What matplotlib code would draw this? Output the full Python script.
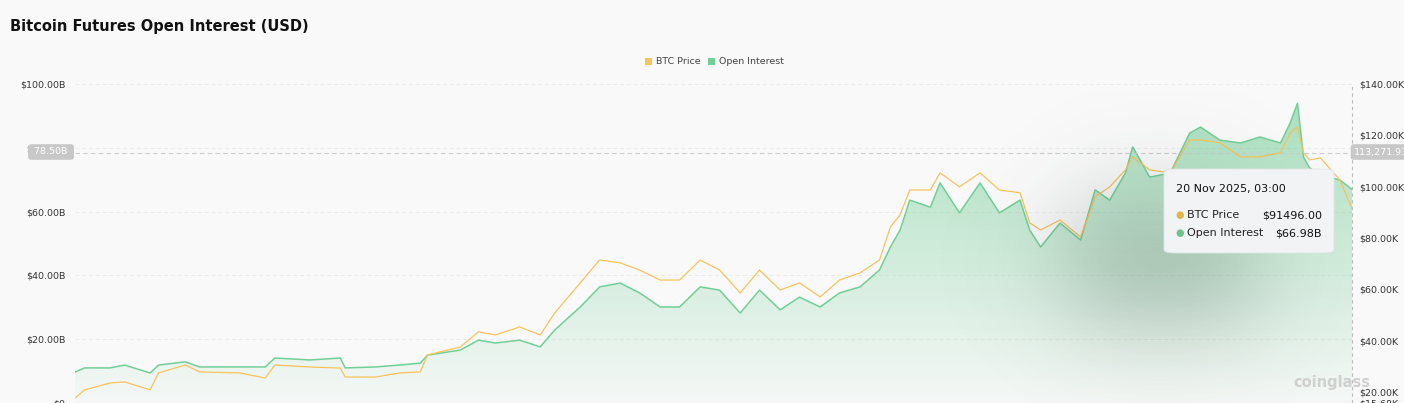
import matplotlib.pyplot as plt
import matplotlib.dates as mdates
from matplotlib.patches import FancyBboxPatch, Polygon
import numpy as np
import pandas as pd

# day offsets from 2023-01-01
days = [0, 8, 29, 41, 62, 69, 91, 103, 136, 157, 165, 194, 219, 223, 248, 268, 285, 291, 318, 333,
        347, 367, 384, 396, 417, 433, 450, 466, 483, 499, 516, 532, 549, 565, 582, 598, 615, 631, 648, 664,
        673, 681, 689, 706, 714, 730, 747, 763, 780, 788, 797, 813, 830, 842, 854, 867, 873, 887, 904, 920,
        929, 945, 962, 978, 995, 1003, 1009, 1014, 1019, 1028, 1044, 1054]
# open interest, billions USD
oi = [9.7, 11.0, 11.0, 11.9, 9.4, 11.9, 12.9, 11.3, 11.3, 11.3, 14.1, 13.5, 14.1, 11.0, 11.3, 11.9, 12.5, 15.0, 16.6, 19.7,
      18.8, 19.7, 17.6, 22.9, 30.1, 36.4, 37.6, 34.5, 30.1, 30.1, 36.4, 35.4, 28.2, 35.4, 29.2, 33.2, 30.1, 34.5, 36.4, 41.7,
      48.9, 54.2, 63.6, 61.4, 69.0, 59.6, 69.0, 59.6, 63.6, 54.2, 48.9, 56.4, 51.1, 66.8, 63.6, 72.1, 80.3, 70.8, 72.1, 84.6,
      86.5, 82.4, 81.5, 83.4, 81.5, 87.8, 94.0, 77.1, 73.7, 71.5, 69.9, 66.98]
# btc price, thousands USD
price = [17.6, 20.8, 23.5, 23.9, 20.8, 27.4, 30.5, 27.8, 27.4, 25.4, 30.5, 29.7, 29.3, 25.8, 25.8, 27.4, 27.8, 34.4, 37.5, 43.4,
         42.2, 45.3, 42.2, 50.8, 62.5, 71.4, 70.3, 67.5, 63.6, 63.6, 71.4, 67.5, 58.6, 67.5, 59.7, 62.5, 57.0, 63.6, 66.4, 71.4,
         84.3, 89.0, 98.7, 98.7, 105.4, 99.9, 105.4, 98.7, 97.6, 85.9, 83.1, 87.0, 80.4, 96.0, 99.9, 106.5, 111.6, 106.5, 105.4, 118.2,
         118.2, 117.1, 111.6, 111.6, 113.2, 121.0, 123.3, 113.2, 110.4, 111.2, 102.6, 91.496]
left_ticks = [0, 20, 40, 60, 80, 100]
right_ticks = [15.68, 20, 40, 60, 80, 100, 120, 140]

dates = pd.Timestamp('2023-01-01') + pd.to_timedelta(days, unit='D')
x = mdates.date2num(dates)

GREEN = '#72cf97'
GOLD = '#f7c35c'
BG = '#f9f9f9'
W, H = 1404, 403

fig = plt.figure(figsize=(14.04, 4.03), dpi=100, facecolor=BG)
ax = fig.add_axes([75 / W, 0, (1352 - 75) / W, (403 - 84) / H])
ax.set_facecolor(BG)
ax.set_xlim(x[0], x[-1])
ax.set_ylim(0, 100)
for s in ax.spines.values():
    s.set_visible(False)
ax.xaxis.set_visible(False)
ax.set_yticks(left_ticks)
ax.set_yticklabels(['$0' if t == 0 else f'${t:.2f}B' for t in left_ticks])
ax.tick_params(axis='y', length=0, pad=7, labelsize=6.8, labelcolor='#333333')
for t in left_ticks[1:]:
    ax.axhline(t, color='#ebebeb', lw=0.7, ls=(0, (4, 3)), zorder=0)

# gradient fill under open interest
grad = np.linspace(0, 1, 256).reshape(-1, 1)
cmap = plt.matplotlib.colors.LinearSegmentedColormap.from_list(
    'g', [(0.45, 0.81, 0.59, 0.03), (0.45, 0.81, 0.59, 0.62)])
im = ax.imshow(grad, aspect='auto', cmap=cmap, origin='lower',
               extent=[x[0], x[-1], 0, 100], zorder=1)
poly = Polygon(np.column_stack([np.r_[x[0], x, x[-1]], np.r_[0, oi, 0]]), closed=True,
               facecolor='none', edgecolor='none')
ax.add_patch(poly)
im.set_clip_path(poly)
ax.plot(x, oi, color=GREEN, lw=1.1, zorder=3)

ax2 = ax.twinx()
ax2.set_ylim(15.68, 140)
for s in ax2.spines.values():
    s.set_visible(False)
ax2.set_yticks(right_ticks)
ax2.set_yticklabels([f'${t:.2f}K' for t in right_ticks])
ax2.tick_params(axis='y', length=0, pad=5, labelsize=6.8, labelcolor='#333333')
ax2.plot(x, price, color=GOLD, lw=0.9, zorder=4)

# crosshair
ax.axhline(78.5, color='#cccccc', lw=0.8, ls=(0, (4, 3)), zorder=5)
ax.axvline(x[-1], color='#bbbbbb', lw=0.8, ls=(0, (3, 3)), clip_on=False, zorder=5)
fig.text(51 / W, 1 - 152 / H, ' 78.50B ', ha='center', va='center', fontsize=6.8, color='white', zorder=10,
         bbox=dict(boxstyle='round,pad=0.35', fc='#c8c8c8', ec='none'))
fig.text(1354 / W, 1 - 152 / H, '113,271.93', ha='left', va='center', fontsize=6.8, color='white', zorder=10,
         bbox=dict(boxstyle='round,pad=0.35', fc='#c8c8c8', ec='none'))

# soft blurred shadow beneath the tooltip, kept inside the plot area
sh = fig.add_axes([900 / W, 0, 452 / W, 1 - 90 / H], zorder=5)
sh.set_axis_off()
px = np.arange(900, 1352)[None, :]
py = np.arange(90, 403)[:, None]
def soft(v, lo, hi, s):
    return (1 / (1 + np.exp(-(v - lo) / s))) * (1 / (1 + np.exp((v - hi) / s)))
alpha = 0.3 * soft(px, 1070, 1250, 32) * soft(py, 205, 320, 30)
rgba = np.zeros(alpha.shape + (4,))
rgba[..., 0:3] = (0.14, 0.24, 0.18)
rgba[..., 3] = alpha
sh.imshow(rgba, aspect='auto', extent=[0, 1, 0, 1], interpolation='bilinear')
sh.set_xlim(0, 1)
sh.set_ylim(0, 1)

fig.patches.append(FancyBboxPatch((1164 / W, 1 - 253 / H), 170 / W, 84 / H,
                                  boxstyle='round,pad=0,rounding_size=0.008', transform=fig.transFigure,
                                  fc='#f1f3f5', ec='#e2e4e6', lw=0.6, zorder=7))
fig.text(1176 / W, 1 - 189 / H, '20 Nov 2025, 03:00', fontsize=8, color='#111111', va='center', zorder=8)
fig.text(1187 / W, 1 - 215 / H, 'BTC Price', fontsize=8, color='#222222', va='center', zorder=8)
fig.text(1322 / W, 1 - 215 / H, f'${price[-1] * 1000:.2f}', fontsize=8, color='#111111', va='center', ha='right', zorder=8)
fig.text(1187 / W, 1 - 233 / H, 'Open Interest', fontsize=8, color='#222222', va='center', zorder=8)
fig.text(1322 / W, 1 - 233 / H, f'${oi[-1]:.2f}B', fontsize=8, color='#111111', va='center', ha='right', zorder=8)
fig.text(1180 / W, 1 - 215 / H, '●', fontsize=7, color='#e3b446', va='center', ha='center', zorder=8)
fig.text(1180 / W, 1 - 233 / H, '●', fontsize=7, color='#6cc48a', va='center', ha='center', zorder=8)

# title, legend, watermark
fig.text(10 / W, 1 - 26 / H, 'Bitcoin Futures Open Interest (USD)', fontsize=10.5, fontweight='bold',
         color='#111111', va='center')
fig.patches.append(plt.Rectangle((645 / W, 1 - 65 / H), 7 / W, 7 / H, transform=fig.transFigure, fc=GOLD))
fig.text(656 / W, 1 - 61 / H, 'BTC Price', fontsize=6.8, color='#444444', va='center')
fig.patches.append(plt.Rectangle((708 / W, 1 - 65 / H), 7 / W, 7 / H, transform=fig.transFigure, fc=GREEN))
fig.text(719 / W, 1 - 61 / H, 'Open Interest', fontsize=6.8, color='#444444', va='center')
fig.text(1293 / W, 1 - 382 / H, 'coinglass', fontsize=10.5, fontweight='bold', color='#d0d0d0',
         va='center', zorder=6)

fig.savefig('out.png', dpi=100, facecolor=BG)
